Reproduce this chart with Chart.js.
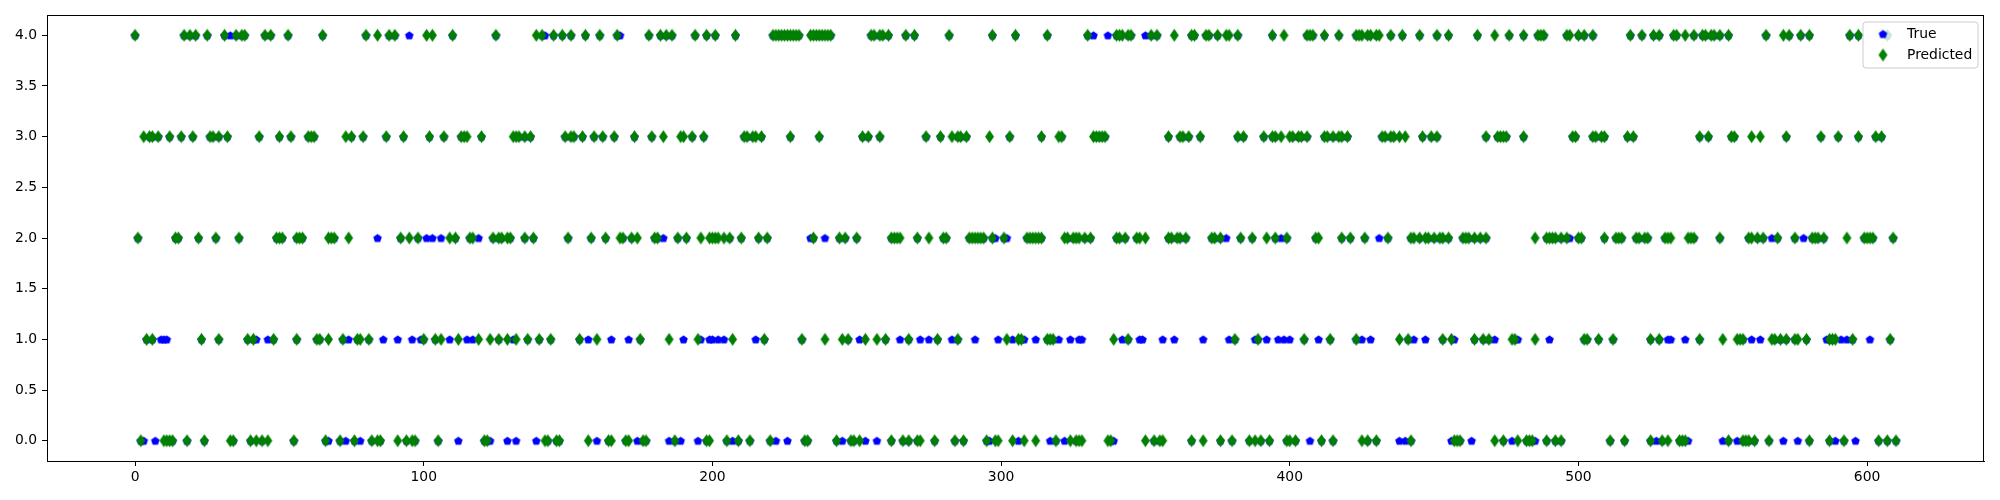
<!DOCTYPE html>
<html>
<head>
<meta charset="utf-8">
<title>True vs Predicted</title>
<script src="https://cdn.jsdelivr.net/npm/chart.js@4.4.1/dist/chart.umd.min.js"></script>
<style>
  body { margin: 0; background: #fff; }
  #wrap { width: 2000px; height: 500px; }
</style>
</head>
<body>
<div id="wrap"><canvas id="chart" width="2000" height="500"></canvas></div>
<script>
// sample indices where the model predicted each class (0..4)
const predicted0 = [2, 10, 11, 12, 13, 18, 24, 33, 34, 40, 42, 44, 46, 55, 66, 71, 76, 82, 84, 85, 91, 94, 96, 97,
  105, 121, 122, 142, 143, 146, 147, 157, 164, 165, 170, 171, 176, 177, 187, 198,
  199, 205, 209, 213, 220, 232, 233, 243, 248, 249, 251, 262, 266, 268, 271, 272, 277, 284, 287, 295, 298,
  299, 304, 308, 312, 319, 324, 326, 327, 328, 337, 338, 350, 353, 355, 356, 366, 370, 376, 380, 386, 388, 390, 393, 399,
  400, 402, 411, 415, 425, 427, 430, 442, 457, 458, 459, 471, 474, 479, 482, 483, 484, 489, 492, 494,
  511, 516, 525, 529, 531, 535, 536, 537, 552, 557, 558, 559, 561, 566, 580, 587, 592, 604, 607, 610];
const predicted1 = [4, 6, 23, 29, 39, 41, 48, 56, 63, 64, 67, 72, 77, 78, 81,
  100, 104, 106, 112, 119, 123, 126, 129, 132, 136, 140, 144, 154, 160, 175, 185, 195,
  207, 218, 231, 239, 245, 247, 253, 257, 260, 268, 278, 285,
  302, 306, 307, 316, 317, 318, 339, 344, 381, 389,
  405, 414, 423, 438, 441, 453, 456, 464, 467, 469, 477, 478, 485,
  502, 503, 507, 512, 525, 528, 542, 550, 555, 556, 557, 567, 568, 570, 572, 575, 576, 579, 587, 588, 589, 595, 608];
const predicted2 = [1, 14, 15, 22, 28, 36, 49, 50, 51, 56, 57, 58, 67, 68, 69, 74, 92, 95, 98,
  109, 111, 116, 117, 124, 126, 127, 129, 130, 135, 138, 150, 158, 163, 168, 169, 172, 174, 180, 181, 188, 191, 196, 199,
  200, 201, 202, 204, 206, 210, 216, 219, 235, 244, 246, 250, 262, 263, 264, 265, 271, 275, 280, 281, 289, 290, 291, 292, 293, 294,
  297, 301, 309, 310, 311, 312, 313, 314, 322, 323, 325, 326, 327, 329, 331, 340, 341, 343, 347, 348, 350, 358, 359, 361, 362, 364,
  373, 374, 376, 383, 387, 392, 395, 399,
  409, 410, 418, 421, 426, 434, 442, 443, 445, 447, 448, 450, 452, 453, 455, 460, 461, 462, 464, 466, 468, 485, 489, 490, 491, 492, 494, 496, 500,
  501, 509, 513, 514, 515, 520, 521, 523, 524, 530, 531, 532, 538, 539, 540, 549, 559, 560, 562, 564, 569, 575, 581, 582, 583, 585, 593,
  599, 600, 601, 602, 609];
const predicted3 = [3, 5, 6, 8, 12, 16, 20, 26, 27, 29, 32, 43, 50, 54, 60, 61, 62, 73, 75, 79, 87, 93,
  102, 107, 113, 114, 115, 120, 131, 132, 133, 135, 137, 149, 151, 152, 155, 159, 162, 166, 173, 179, 183, 189, 190, 193, 197,
  211, 212, 214, 215, 217, 227, 237, 252, 254, 258, 274, 279, 283, 285, 286, 288, 296,
  303, 314, 320, 321, 332, 333, 334, 335, 336, 358, 362, 363, 365, 369, 382, 384, 391, 394, 395, 397, 400,
  401, 403, 404, 406, 412, 413, 415, 417, 418, 420, 432, 433, 435, 436, 438, 440, 446, 449, 451, 468, 472, 473, 474, 475, 481, 498, 499,
  505, 506, 508, 509, 517, 519, 542, 545, 553, 554, 560, 563, 572, 584, 590, 597, 603, 605];
const predicted4 = [0, 17, 19, 21, 25, 31, 35, 37, 38, 45, 47, 53, 65, 80, 84, 88, 90,
  101, 103, 110, 125, 139, 141, 145, 148, 151, 156, 161, 167, 178, 182, 184, 186, 194, 198,
  201, 208, 221, 222, 223, 224, 225, 226, 227, 228, 229, 230, 234, 235, 236, 237, 238, 239, 240, 241,
  255, 256, 258, 259, 261, 267, 270, 282, 297,
  305, 316, 330, 340, 341, 342, 344, 345, 352, 354, 360, 366, 367, 371, 372, 375, 378, 379, 382, 394, 398,
  406, 407, 408, 412, 417, 423, 424, 425, 427, 428, 430, 431, 435, 439, 445, 451, 455, 465, 471, 476, 481, 486, 487, 488, 496, 497, 500,
  502, 505, 518, 522, 526, 528, 533, 534, 537, 540, 543, 544, 546, 547, 549, 552, 565, 571, 573, 577, 580, 594, 597, 607];

// indices where the true class differs from the prediction (blue shows through)
const trueOnly0 = [3, 7, 67, 73, 78, 112, 123, 129, 132, 139, 160, 174, 185, 189, 195,
  207, 222, 226, 245, 253, 257, 296, 306, 317, 322, 339, 407, 438, 440, 456, 463, 477, 485,
  527, 538, 550, 555, 571, 576, 589, 596];
const trueOnly1 = [9, 10, 11, 42, 46, 74, 86, 91, 96, 99, 109, 115, 117, 131, 157, 165, 171, 190, 196, 199,
  200, 202, 204, 215, 251, 265, 272, 275, 283, 291, 299, 304, 308, 312, 320, 324, 327, 328, 342, 348, 349, 356, 360,
  370, 379, 388, 392, 396, 398, 400, 410, 425, 428, 443, 447, 457, 471, 479, 490,
  531, 532, 537, 560, 563, 586, 591, 593, 601];
const trueOnly2 = [84, 101, 103, 106, 119, 183, 234, 239, 298, 302, 378, 397, 431, 497, 567, 578];
const trueOnly3 = [];
const trueOnly4 = [33, 95, 142, 168, 332, 337, 350];

const xTicks = [0, 100, 200, 300, 400, 500, 600];
const yTicks = [0, 0.5, 1, 1.5, 2, 2.5, 3, 3.5, 4];

const predictedLists = [predicted0, predicted1, predicted2, predicted3, predicted4];
const trueOnlyLists = [trueOnly0, trueOnly1, trueOnly2, trueOnly3, trueOnly4];

const predictedPoints = predictedLists.flatMap((list, cls) => list.map(i => ({ x: i, y: cls })));
const mismatch = new Set(trueOnlyLists.flat());
const truePoints = trueOnlyLists.flatMap((list, cls) => list.map(i => ({ x: i, y: cls })))
  .concat(predictedPoints.filter(p => !mismatch.has(p.x)));

const BLUE = "#0000ff";
const GREEN = "#008000";
const FONT = "'DejaVu Sans', sans-serif";

// marker sprites: matplotlib pentagon 'p' and thin diamond 'd'
function makePentagon(r, color) {
  const size = Math.ceil(r * 2) + 2;
  const c = document.createElement("canvas");
  c.width = size; c.height = size;
  const g = c.getContext("2d");
  const cx = size / 2, cy = size / 2 + r * 0.1;
  g.beginPath();
  for (let k = 0; k < 5; k++) {
    const a = -Math.PI / 2 + k * 2 * Math.PI / 5;
    const px = cx + r * Math.cos(a), py = cy + r * Math.sin(a);
    if (k === 0) g.moveTo(px, py); else g.lineTo(px, py);
  }
  g.closePath();
  g.fillStyle = color;
  g.fill();
  return c;
}

function makeDiamond(w, h, color) {
  const c = document.createElement("canvas");
  c.width = w + 2; c.height = h + 2;
  const g = c.getContext("2d");
  const cx = c.width / 2, cy = c.height / 2;
  g.beginPath();
  g.moveTo(cx, cy - h / 2);
  g.lineTo(cx + w / 2, cy);
  g.lineTo(cx, cy + h / 2);
  g.lineTo(cx - w / 2, cy);
  g.closePath();
  g.fillStyle = color;
  g.fill();
  return c;
}

const pentagon = makePentagon(4.5, BLUE);
const diamond = makeDiamond(9, 13, GREEN);

// axes box + legend drawn like matplotlib
const framePlugin = {
  id: "frame",
  afterDraw(chart) {
    const { ctx, chartArea: a } = chart;
    ctx.save();
    ctx.strokeStyle = "#000";
    ctx.lineWidth = 1;
    ctx.strokeRect(a.left + 0.5, a.top + 0.5, a.right - a.left - 1, a.bottom - a.top);

    // legend
    const bx = 1863, by = 22, bw = 115, bh = 46, r = 3;
    ctx.beginPath();
    ctx.moveTo(bx + r, by);
    ctx.arcTo(bx + bw, by, bx + bw, by + bh, r);
    ctx.arcTo(bx + bw, by + bh, bx, by + bh, r);
    ctx.arcTo(bx, by + bh, bx, by, r);
    ctx.arcTo(bx, by, bx + bw, by, r);
    ctx.closePath();
    ctx.fillStyle = "rgba(255,255,255,0.8)";
    ctx.fill();
    ctx.strokeStyle = "#cccccc";
    ctx.stroke();

    ctx.drawImage(pentagon, 1883 - pentagon.width / 2, 34 - pentagon.height / 2);
    ctx.drawImage(diamond, 1883 - diamond.width / 2, 55 - diamond.height / 2);
    ctx.fillStyle = "#000";
    ctx.font = "13.9px " + FONT;
    ctx.textBaseline = "middle";
    ctx.textAlign = "left";
    ctx.fillText("True", 1907, 34);
    ctx.fillText("Predicted", 1907, 55);
    ctx.restore();
  }
};

const tickFont = { family: FONT, size: 13.9 };

new Chart(document.getElementById("chart"), {
  type: "scatter",
  data: {
    datasets: [
      {
        label: "True",
        data: truePoints,
        pointStyle: pentagon,
        pointRadius: 5,
        order: 2
      },
      {
        label: "Predicted",
        data: predictedPoints,
        pointStyle: diamond,
        pointRadius: 7,
        order: 1
      }
    ]
  },
  options: {
    responsive: false,
    devicePixelRatio: 1,
    animation: false,
    events: [],
    layout: { padding: { top: 15, right: 16, left: 0, bottom: 0 } },
    plugins: {
      legend: { display: false },
      tooltip: { enabled: false }
    },
    scales: {
      x: {
        type: "linear",
        min: -30.5,
        max: 640.5,
        afterBuildTicks: s => { s.ticks = xTicks.map(v => ({ value: v })); },
        afterFit: s => { s.height = 39; },
        ticks: { color: "#000", font: tickFont, padding: 3, maxRotation: 0, autoSkip: false },
        grid: { drawOnChartArea: false, drawTicks: true, tickLength: 5, color: "#000" },
        border: { display: true, color: "#000", width: 1 }
      },
      y: {
        min: -0.2,
        max: 4.2,
        afterBuildTicks: s => { s.ticks = yTicks.map(v => ({ value: v })); },
        afterFit: s => { s.width = 47; },
        ticks: {
          color: "#000",
          font: tickFont,
          padding: 5,
          autoSkip: false,
          callback: v => Number(v).toFixed(1)
        },
        grid: { drawOnChartArea: false, drawTicks: true, tickLength: 5, color: "#000" },
        border: { display: true, color: "#000", width: 1 }
      }
    }
  },
  plugins: [framePlugin]
});
</script>
</body>
</html>
